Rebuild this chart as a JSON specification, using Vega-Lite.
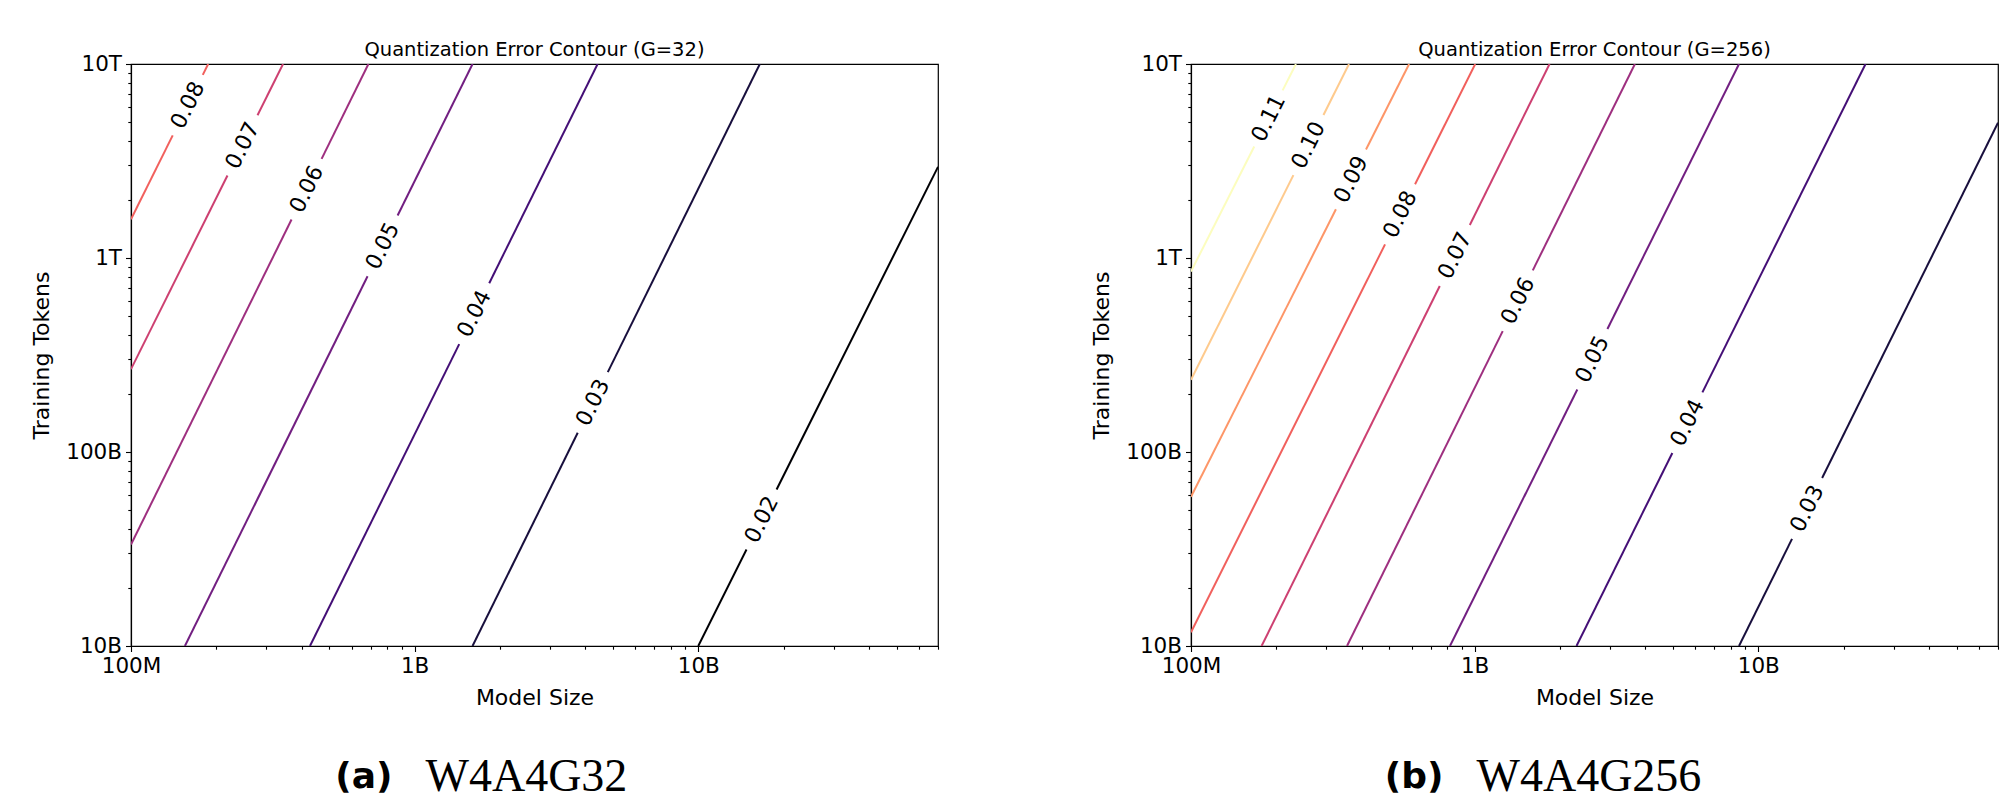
{
  "$schema": "https://vega.github.io/schema/vega-lite/v6.json",
  "background": "white",
  "padding": {"top": 38, "left": 30, "right": 0, "bottom": 0},
  "config": {
    "view": {"stroke": "black", "strokeWidth": 1.2},
    "font": "DejaVu Sans",
    "title": {"font": "DejaVu Sans", "fontSize": 19.5, "fontWeight": "normal", "color": "black", "offset": -7, "frame": "group", "anchor": "middle"},
    "axis": {
      "grid": false, "domainColor": "black", "domainWidth": 1.2, "tickColor": "black", "tickWidth": 1.1,
      "labelColor": "black", "labelFont": "DejaVu Sans", "labelFontSize": 21.5,
      "titleFont": "DejaVu Sans", "titleFontSize": 22, "titleFontWeight": "normal", "titleColor": "black",
      "labelFlush": false, "labelOverlap": false, "labelBound": false, "labelPadding": 4
    }
  },
  "datasets": {
    "lines": [
      {"panel": "a", "level": "0.08", "seg": "a08-1", "k": 0, "x": 1e8, "y": 1.585e12},
      {"panel": "a", "level": "0.08", "seg": "a08-1", "k": 1, "x": 1.403e8, "y": 4.285e12},
      {"panel": "a", "level": "0.08", "seg": "a08-2", "k": 0, "x": 1.791e8, "y": 8.790e12},
      {"panel": "a", "level": "0.08", "seg": "a08-2", "k": 1, "x": 1.871e8, "y": 1e13},
      {"panel": "a", "level": "0.07", "seg": "a07-1", "k": 0, "x": 1e8, "y": 2.673e11},
      {"panel": "a", "level": "0.07", "seg": "a07-1", "k": 1, "x": 2.188e8, "y": 2.661e12},
      {"panel": "a", "level": "0.07", "seg": "a07-2", "k": 0, "x": 2.793e8, "y": 5.445e12},
      {"panel": "a", "level": "0.07", "seg": "a07-2", "k": 1, "x": 3.436e8, "y": 1e13},
      {"panel": "a", "level": "0.06", "seg": "a06-1", "k": 0, "x": 1e8, "y": 3.334e10},
      {"panel": "a", "level": "0.06", "seg": "a06-1", "k": 1, "x": 3.681e8, "y": 1.578e12},
      {"panel": "a", "level": "0.06", "seg": "a06-2", "k": 0, "x": 4.699e8, "y": 3.243e12},
      {"panel": "a", "level": "0.06", "seg": "a06-2", "k": 1, "x": 6.871e8, "y": 1e13},
      {"panel": "a", "level": "0.05", "seg": "a05-1", "k": 0, "x": 1.549e8, "y": 1e10},
      {"panel": "a", "level": "0.05", "seg": "a05-1", "k": 1, "x": 6.823e8, "y": 8.054e11},
      {"panel": "a", "level": "0.05", "seg": "a05-2", "k": 0, "x": 8.710e8, "y": 1.656e12},
      {"panel": "a", "level": "0.05", "seg": "a05-2", "k": 1, "x": 1.600e9, "y": 1e13},
      {"panel": "a", "level": "0.04", "seg": "a04-1", "k": 0, "x": 4.276e8, "y": 1e10},
      {"panel": "a", "level": "0.04", "seg": "a04-1", "k": 1, "x": 1.436e9, "y": 3.597e11},
      {"panel": "a", "level": "0.04", "seg": "a04-2", "k": 0, "x": 1.832e9, "y": 7.413e11},
      {"panel": "a", "level": "0.04", "seg": "a04-2", "k": 1, "x": 4.416e9, "y": 1e13},
      {"panel": "a", "level": "0.03", "seg": "a03-1", "k": 0, "x": 1.600e9, "y": 1e10},
      {"panel": "a", "level": "0.03", "seg": "a03-1", "k": 1, "x": 3.758e9, "y": 1.256e11},
      {"panel": "a", "level": "0.03", "seg": "a03-2", "k": 0, "x": 4.797e9, "y": 2.582e11},
      {"panel": "a", "level": "0.03", "seg": "a03-2", "k": 1, "x": 1.648e10, "y": 1e13},
      {"panel": "a", "level": "0.02", "seg": "a02-1", "k": 0, "x": 1e10, "y": 1e10},
      {"panel": "a", "level": "0.02", "seg": "a02-1", "k": 1, "x": 1.479e10, "y": 3.141e10},
      {"panel": "a", "level": "0.02", "seg": "a02-2", "k": 0, "x": 1.888e10, "y": 6.412e10},
      {"panel": "a", "level": "0.02", "seg": "a02-2", "k": 1, "x": 7e10, "y": 2.951e12},
      {"panel": "b", "level": "0.11", "seg": "b11-1", "k": 0, "x": 1e8, "y": 8.511e11},
      {"panel": "b", "level": "0.11", "seg": "b11-1", "k": 1, "x": 1.671e8, "y": 3.758e12},
      {"panel": "b", "level": "0.11", "seg": "b11-2", "k": 0, "x": 2.104e8, "y": 7.311e12},
      {"panel": "b", "level": "0.11", "seg": "b11-2", "k": 1, "x": 2.344e8, "y": 1e13},
      {"panel": "b", "level": "0.10", "seg": "b10-1", "k": 0, "x": 1e8, "y": 2.355e11},
      {"panel": "b", "level": "0.10", "seg": "b10-1", "k": 1, "x": 2.296e8, "y": 2.673e12},
      {"panel": "b", "level": "0.10", "seg": "b10-2", "k": 0, "x": 2.931e8, "y": 5.458e12},
      {"panel": "b", "level": "0.10", "seg": "b10-2", "k": 1, "x": 3.606e8, "y": 1e13},
      {"panel": "b", "level": "0.09", "seg": "b09-1", "k": 0, "x": 1e8, "y": 5.875e10},
      {"panel": "b", "level": "0.09", "seg": "b09-1", "k": 1, "x": 3.243e8, "y": 1.782e12},
      {"panel": "b", "level": "0.09", "seg": "b09-2", "k": 0, "x": 4.140e8, "y": 3.622e12},
      {"panel": "b", "level": "0.09", "seg": "b09-2", "k": 1, "x": 5.875e8, "y": 1e13},
      {"panel": "b", "level": "0.08", "seg": "b08-1", "k": 0, "x": 1e8, "y": 1.178e10},
      {"panel": "b", "level": "0.08", "seg": "b08-1", "k": 1, "x": 4.831e8, "y": 1.175e12},
      {"panel": "b", "level": "0.08", "seg": "b08-2", "k": 0, "x": 6.166e8, "y": 2.399e12},
      {"panel": "b", "level": "0.08", "seg": "b08-2", "k": 1, "x": 1.005e9, "y": 1e13},
      {"panel": "b", "level": "0.07", "seg": "b07-1", "k": 0, "x": 1.774e8, "y": 1e10},
      {"panel": "b", "level": "0.07", "seg": "b07-1", "k": 1, "x": 7.534e8, "y": 7.178e11},
      {"panel": "b", "level": "0.07", "seg": "b07-2", "k": 0, "x": 9.616e8, "y": 1.479e12},
      {"panel": "b", "level": "0.07", "seg": "b07-2", "k": 1, "x": 1.837e9, "y": 1e13},
      {"panel": "b", "level": "0.06", "seg": "b06-1", "k": 0, "x": 3.548e8, "y": 1e10},
      {"panel": "b", "level": "0.06", "seg": "b06-1", "k": 1, "x": 1.256e9, "y": 4.198e11},
      {"panel": "b", "level": "0.06", "seg": "b06-2", "k": 0, "x": 1.603e9, "y": 8.630e11},
      {"panel": "b", "level": "0.06", "seg": "b06-2", "k": 1, "x": 3.673e9, "y": 1e13},
      {"panel": "b", "level": "0.05", "seg": "b05-1", "k": 0, "x": 8.185e8, "y": 1e10},
      {"panel": "b", "level": "0.05", "seg": "b05-1", "k": 1, "x": 2.301e9, "y": 2.099e11},
      {"panel": "b", "level": "0.05", "seg": "b05-2", "k": 0, "x": 2.938e9, "y": 4.305e11},
      {"panel": "b", "level": "0.05", "seg": "b05-2", "k": 1, "x": 8.551e9, "y": 1e13},
      {"panel": "b", "level": "0.04", "seg": "b04-1", "k": 0, "x": 2.286e9, "y": 1e10},
      {"panel": "b", "level": "0.04", "seg": "b04-1", "k": 1, "x": 4.977e9, "y": 9.886e10},
      {"panel": "b", "level": "0.04", "seg": "b04-2", "k": 0, "x": 6.353e9, "y": 2.028e11},
      {"panel": "b", "level": "0.04", "seg": "b04-2", "k": 1, "x": 2.388e10, "y": 1e13},
      {"panel": "b", "level": "0.03", "seg": "b03-1", "k": 0, "x": 8.551e9, "y": 1e10},
      {"panel": "b", "level": "0.03", "seg": "b03-1", "k": 1, "x": 1.315e10, "y": 3.565e10},
      {"panel": "b", "level": "0.03", "seg": "b03-2", "k": 0, "x": 1.679e10, "y": 7.345e10},
      {"panel": "b", "level": "0.03", "seg": "b03-2", "k": 1, "x": 7e10, "y": 4.977e12}
    ],
    "labels": [
      {"panel": "a", "level": "0.08", "x": 1.585e8, "y": 6.138e12},
      {"panel": "a", "level": "0.07", "x": 2.472e8, "y": 3.802e12},
      {"panel": "a", "level": "0.06", "x": 4.159e8, "y": 2.265e12},
      {"panel": "a", "level": "0.05", "x": 7.709e8, "y": 1.153e12},
      {"panel": "a", "level": "0.04", "x": 1.622e9, "y": 5.164e11},
      {"panel": "a", "level": "0.03", "x": 4.246e9, "y": 1.799e11},
      {"panel": "a", "level": "0.02", "x": 1.671e10, "y": 4.487e10},
      {"panel": "b", "level": "0.11", "x": 1.875e8, "y": 5.248e12},
      {"panel": "b", "level": "0.10", "x": 2.594e8, "y": 3.819e12},
      {"panel": "b", "level": "0.09", "x": 3.664e8, "y": 2.541e12},
      {"panel": "b", "level": "0.08", "x": 5.458e8, "y": 1.679e12},
      {"panel": "b", "level": "0.07", "x": 8.511e8, "y": 1.030e12},
      {"panel": "b", "level": "0.06", "x": 1.419e9, "y": 6.026e11},
      {"panel": "b", "level": "0.05", "x": 2.600e9, "y": 3.006e11},
      {"panel": "b", "level": "0.04", "x": 5.623e9, "y": 1.416e11},
      {"panel": "b", "level": "0.03", "x": 1.486e10, "y": 5.117e10}
    ],
    "captions": [
      {"panel": "a", "part": "tag", "text": "(a)"},
      {"panel": "a", "part": "name", "text": "W4A4G32"},
      {"panel": "b", "part": "tag", "text": "(b)"},
      {"panel": "b", "part": "name", "text": "W4A4G256"}
    ]
  },
  "spacing": 150,
  "hconcat": [
    {
      "spacing": 45,
      "vconcat": [
        {
          "width": 807, "height": 582,
          "title": "Quantization Error Contour (G=32)",
          "layer": [
            {
              "data": {"name": "lines"},
              "transform": [{"filter": "datum.panel == 'a'"}],
              "mark": {"type": "line", "strokeWidth": 2, "clip": true},
              "encoding": {
                "x": {"field": "x", "type": "quantitative",
                  "scale": {"type": "log", "domain": [1e8, 7e10], "nice": false},
                  "axis": {"title": "Model Size", "titlePadding": 10,
                    "values": [1e8, 2e8, 3e8, 4e8, 5e8, 6e8, 7e8, 8e8, 9e8, 1e9, 2e9, 3e9, 4e9, 5e9, 6e9, 7e9, 8e9, 9e9, 1e10, 2e10, 3e10, 4e10, 5e10, 6e10, 7e10],
                    "labelExpr": "datum.value == 100000000 ? '100M' : datum.value == 1000000000 ? '1B' : datum.value == 10000000000 ? '10B' : ''",
                    "tickSize": {"condition": {"test": "abs(log(datum.value)/LN10 - round(log(datum.value)/LN10)) < 0.0001", "value": 5.5}, "value": 3.2}}},
                "y": {"field": "y", "type": "quantitative",
                  "scale": {"type": "log", "domain": [1e10, 1e13], "nice": false},
                  "axis": {"title": "Training Tokens", "titlePadding": 12,
                    "values": [1e10, 2e10, 3e10, 4e10, 5e10, 6e10, 7e10, 8e10, 9e10, 1e11, 2e11, 3e11, 4e11, 5e11, 6e11, 7e11, 8e11, 9e11, 1e12, 2e12, 3e12, 4e12, 5e12, 6e12, 7e12, 8e12, 9e12, 1e13],
                    "labelExpr": "datum.value == 10000000000 ? '10B' : datum.value == 100000000000 ? '100B' : datum.value == 1000000000000 ? '1T' : datum.value == 10000000000000 ? '10T' : ''",
                    "tickSize": {"condition": {"test": "abs(log(datum.value)/LN10 - round(log(datum.value)/LN10)) < 0.0001", "value": 5.5}, "value": 3.2}}},
                "color": {"field": "level", "type": "nominal",
                  "scale": {"domain": ["0.02", "0.03", "0.04", "0.05", "0.06", "0.07", "0.08", "0.09", "0.10", "0.11"],
                    "range": ["#000004", "#180f3d", "#440f76", "#721f81", "#9e2f7f", "#cd4071", "#f1605d", "#fd9668", "#feca8d", "#fcfdbf"]},
                  "legend": null},
                "detail": {"field": "seg"},
                "order": {"field": "k", "type": "quantitative"}
              }
            },
            {
              "data": {"name": "labels"},
              "transform": [{"filter": "datum.panel == 'a'"}],
              "mark": {"type": "text", "angle": 296.4, "font": "DejaVu Sans", "fontSize": 22, "color": "black", "align": "center", "baseline": "middle"},
              "encoding": {
                "x": {"field": "x", "type": "quantitative"},
                "y": {"field": "y", "type": "quantitative"},
                "text": {"field": "level"}
              }
            }
          ]
        },
        {
          "width": 556, "height": 40,
          "view": {"stroke": null},
          "data": {"name": "captions"},
          "transform": [{"filter": "datum.panel == 'a'"}],
          "layer": [
            {
              "transform": [{"filter": "datum.part == 'tag'"}],
              "mark": {"type": "text", "font": "DejaVu Sans", "fontWeight": "bold", "fontSize": 36, "align": "right", "baseline": "middle", "color": "black", "dx": -16.5},
              "encoding": {"text": {"field": "text"}}
            },
            {
              "transform": [{"filter": "datum.part == 'name'"}],
              "mark": {"type": "text", "font": "Liberation Serif", "fontSize": 46, "align": "left", "baseline": "middle", "color": "black", "dx": 16.5},
              "encoding": {"text": {"field": "text"}}
            }
          ]
        }
      ]
    },
    {
      "spacing": 45,
      "vconcat": [
        {
          "width": 807, "height": 582,
          "title": "Quantization Error Contour (G=256)",
          "layer": [
            {
              "data": {"name": "lines"},
              "transform": [{"filter": "datum.panel == 'b'"}],
              "mark": {"type": "line", "strokeWidth": 2, "clip": true},
              "encoding": {
                "x": {"field": "x", "type": "quantitative",
                  "scale": {"type": "log", "domain": [1e8, 7e10], "nice": false},
                  "axis": {"title": "Model Size", "titlePadding": 10,
                    "values": [1e8, 2e8, 3e8, 4e8, 5e8, 6e8, 7e8, 8e8, 9e8, 1e9, 2e9, 3e9, 4e9, 5e9, 6e9, 7e9, 8e9, 9e9, 1e10, 2e10, 3e10, 4e10, 5e10, 6e10, 7e10],
                    "labelExpr": "datum.value == 100000000 ? '100M' : datum.value == 1000000000 ? '1B' : datum.value == 10000000000 ? '10B' : ''",
                    "tickSize": {"condition": {"test": "abs(log(datum.value)/LN10 - round(log(datum.value)/LN10)) < 0.0001", "value": 5.5}, "value": 3.2}}},
                "y": {"field": "y", "type": "quantitative",
                  "scale": {"type": "log", "domain": [1e10, 1e13], "nice": false},
                  "axis": {"title": "Training Tokens", "titlePadding": 12,
                    "values": [1e10, 2e10, 3e10, 4e10, 5e10, 6e10, 7e10, 8e10, 9e10, 1e11, 2e11, 3e11, 4e11, 5e11, 6e11, 7e11, 8e11, 9e11, 1e12, 2e12, 3e12, 4e12, 5e12, 6e12, 7e12, 8e12, 9e12, 1e13],
                    "labelExpr": "datum.value == 10000000000 ? '10B' : datum.value == 100000000000 ? '100B' : datum.value == 1000000000000 ? '1T' : datum.value == 10000000000000 ? '10T' : ''",
                    "tickSize": {"condition": {"test": "abs(log(datum.value)/LN10 - round(log(datum.value)/LN10)) < 0.0001", "value": 5.5}, "value": 3.2}}},
                "color": {"field": "level", "type": "nominal",
                  "scale": {"domain": ["0.02", "0.03", "0.04", "0.05", "0.06", "0.07", "0.08", "0.09", "0.10", "0.11"],
                    "range": ["#000004", "#180f3d", "#440f76", "#721f81", "#9e2f7f", "#cd4071", "#f1605d", "#fd9668", "#feca8d", "#fcfdbf"]},
                  "legend": null},
                "detail": {"field": "seg"},
                "order": {"field": "k", "type": "quantitative"}
              }
            },
            {
              "data": {"name": "labels"},
              "transform": [{"filter": "datum.panel == 'b'"}],
              "mark": {"type": "text", "angle": 296.4, "font": "DejaVu Sans", "fontSize": 22, "color": "black", "align": "center", "baseline": "middle"},
              "encoding": {
                "x": {"field": "x", "type": "quantitative"},
                "y": {"field": "y", "type": "quantitative"},
                "text": {"field": "level"}
              }
            }
          ]
        },
        {
          "width": 538, "height": 40,
          "view": {"stroke": null},
          "data": {"name": "captions"},
          "transform": [{"filter": "datum.panel == 'b'"}],
          "layer": [
            {
              "transform": [{"filter": "datum.part == 'tag'"}],
              "mark": {"type": "text", "font": "DejaVu Sans", "fontWeight": "bold", "fontSize": 36, "align": "right", "baseline": "middle", "color": "black", "dx": -16.5},
              "encoding": {"text": {"field": "text"}}
            },
            {
              "transform": [{"filter": "datum.part == 'name'"}],
              "mark": {"type": "text", "font": "Liberation Serif", "fontSize": 46, "align": "left", "baseline": "middle", "color": "black", "dx": 16.5},
              "encoding": {"text": {"field": "text"}}
            }
          ]
        }
      ]
    }
  ]
}
